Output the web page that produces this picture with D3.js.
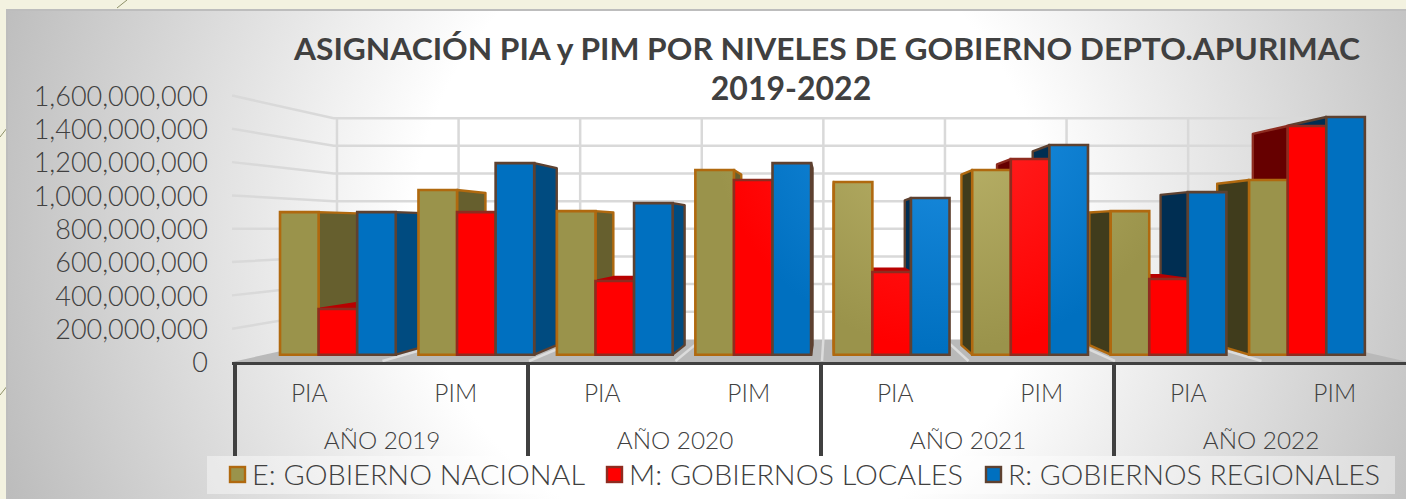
<!DOCTYPE html>
<html><head><meta charset="utf-8">
<script src="https://cdn.jsdelivr.net/npm/d3@7/dist/d3.min.js"></script>
<style>html,body{margin:0;padding:0;background:#f3f2e0;overflow:hidden}svg{display:block}text{font-family:Lato,sans-serif;fill:#404040}</style>
</head><body><svg id="c" width="1406" height="499"></svg>
<script>
const years = ["AÑO 2019","AÑO 2020","AÑO 2021","AÑO 2022"];
const kinds = ["PIA","PIM"];
const seriesNames = ["E: GOBIERNO NACIONAL","M: GOBIERNOS LOCALES","R: GOBIERNOS REGIONALES"];
const nacional = [906e6,1046e6,912e6,1173e6,1097e6,1173e6,912e6,1110e6];
const locales  = [290e6,906e6,468e6,1110e6,525e6,1243e6,481e6,1453e6];
const regional = [906e6,1217e6,963e6,1217e6,995e6,1332e6,1033e6,1510e6];
const yTicks = d3.range(0,1600000001,200000000);

const palette = [
 {lo:"#9a934b",hi:"#bdb56c",stroke:"#b0690f",sideL:"#665f2e",sideR:"#403c1c",top:"#7d7638"},
 {lo:"#ff0000",hi:"#ff2626",stroke:"#8e2c20",sideL:"#8a0000",sideR:"#660000",top:"#b80000"},
 {lo:"#0070c0",hi:"#1f90e4",stroke:"#5e4130",sideL:"#004b80",sideR:"#002e52",top:"#003a66"}
];
const svg = d3.select("#c");
const defs = svg.append("defs");
const bg = defs.append("radialGradient").attr("id","bg").attr("gradientUnits","userSpaceOnUse")
  .attr("cx",730).attr("cy",230).attr("r",790);
bg.append("stop").attr("offset",0.4).attr("stop-color","#ffffff");
bg.append("stop").attr("offset",1).attr("stop-color","#b9b9b9");
palette.forEach((p,i)=>{
  const g=defs.append("radialGradient").attr("id","f"+i).attr("gradientUnits","userSpaceOnUse")
    .attr("cx",950).attr("cy",110).attr("r",240);
  g.append("stop").attr("offset",0).attr("stop-color",p.hi);
  g.append("stop").attr("offset",1).attr("stop-color",p.lo);
});

// page decoration & panel
const deco=[[127,0,117,8],[7,128,0,137],[8,385,0,395]];
svg.selectAll("line.deco").data(deco).join("line").attr("class","deco")
  .attr("x1",d=>d[0]).attr("y1",d=>d[1]).attr("x2",d=>d[2]).attr("y2",d=>d[3])
  .attr("stroke","#8d9068").attr("stroke-width",1);
svg.append("rect").attr("x",7).attr("y",9).attr("width",1399).attr("height",490).attr("fill","url(#bg)");
svg.append("path").attr("d","M7,499V10H1406").attr("fill","none").attr("stroke","#bdbdbd").attr("stroke-width",2);

// scales
const cats = d3.range(8);
const x0 = d3.scaleBand().domain(cats).range([236,1408]);
const x1 = d3.scaleBand().domain([0,1,2]).range([x0.bandwidth()*0.082,x0.bandwidth()*0.918]);
const y = d3.scaleLinear().domain([0,1.6e9]).range([362,95.5]);
const VP = {x:830,y:229}, T0=.055, T1=.127, TW=.17;
const P=(x,v,t)=>{const Y=y(v);return [x+t*(VP.x-x),Y+t*(VP.y-Y)];};
const poly=a=>"M"+a.map(p=>p.join(",")).join("L")+"Z";

// floor
const [xa,xb]=x0.range();
svg.append("path").attr("d",poly([P(xa-4,0,0),P(xa-4,0,TW),P(xb,0,TW),P(xb,0,0)])).attr("fill","#b9b9b9");
const edges=cats.map(c=>x0(c));
svg.selectAll("line.fl").data(edges.slice(1)).join("line").attr("class","fl")
  .attr("x1",d=>P(d,0,TW)[0]).attr("y1",d=>P(d,0,TW)[1]).attr("x2",d=>P(d,0,0)[0]).attr("y2",d=>P(d,0,0)[1]-1)
  .attr("stroke","#dcdcdc").attr("stroke-width",2.5);
// walls
const grid=svg.append("g").attr("fill","none").attr("stroke","#d9d9d9").attr("stroke-width",2.5);
grid.selectAll("path.h").data(yTicks.slice(1)).join("path").attr("class","h")
  .attr("d",v=>"M"+[P(xa-4,v,0),P(xa-4,v,TW),P(xb,v,TW)].map(p=>p.join(",")).join("L"));
grid.selectAll("line.v").data(edges).join("line").attr("class","v")
  .attr("x1",d=>P(d,0,TW)[0]).attr("x2",d=>P(d,0,TW)[0])
  .attr("y1",P(0,0,TW)[1]).attr("y2",P(0,1.6e9,TW)[1]);

// bars
const seriesVals=[nacional,locales,regional];
const bars=[];
cats.forEach(c=>seriesVals.forEach((s,i)=>{
  const l=x0(c)+x1(i), r=l+x1.bandwidth();
  bars.push({c,i,v:s[c],l,r});
}));
const backs=[],fronts=bars;
bars.forEach(b=>{
  const p=palette[b.i];
  const fl=P(b.l,0,T0)[0], fr=P(b.r,0,T0)[0];
  const e=fr<VP.x?b.r:(fl>VP.x?b.l:null);
  if(e!==null){
    backs.push({k:Math.abs(e-VP.x),ord:0,b,d:poly([P(e,0,T0),P(e,0,T1),P(e,b.v,T1),P(e,b.v,T0)]),
      fill:e<VP.x?p.sideL:p.sideR,stroke:p.stroke});
  }
  if(y(b.v)>VP.y){
    backs.push({k:Math.abs(e===null?0:e-VP.x)-.1,ord:1,b,d:poly([P(b.l,b.v,T0),P(b.l,b.v,T1),P(b.r,b.v,T1),P(b.r,b.v,T0)]),
      fill:p.top,stroke:p.top});
  }
});
backs.sort((a,b)=>b.k-a.k);
svg.append("g").selectAll("path").data(backs).join("path")
  .attr("d",d=>d.d).attr("fill",d=>d.fill).attr("stroke",d=>d.stroke).attr("stroke-width",2.4).attr("stroke-linejoin","round");
svg.append("g").selectAll("path").data(fronts).join("path")
  .attr("d",b=>poly([P(b.l,0,T0),P(b.l,b.v,T0),P(b.r,b.v,T0),P(b.r,0,T0)]))
  .attr("fill",b=>`url(#f${b.i})`).attr("stroke",b=>palette[b.i].stroke).attr("stroke-width",2.6);

// y axis
const ya=svg.append("g").attr("transform","translate(208,1)")
  .call(d3.axisLeft(y).tickValues(yTicks).tickFormat(d3.format(",")).tickSize(0).tickPadding(0));
ya.select(".domain").remove();
ya.selectAll("text").attr("font-size",27).style("font-family","Lato,sans-serif").attr("fill","#404040").attr("font-weight",300);

// category axis
svg.append("line").attr("x1",232).attr("x2",1406).attr("y1",363.5).attr("y2",363.5).attr("stroke","#404040").attr("stroke-width",3);
const yearEdges=[0,2,4,6].map(c=>x0(c));
svg.selectAll("line.yr").data(yearEdges).join("line").attr("class","yr")
  .attr("x1",d=>d-1).attr("x2",d=>d-1).attr("y1",363).attr("y2",456).attr("stroke","#404040").attr("stroke-width",4);
svg.selectAll("text.k").data(cats).join("text").attr("class","k")
  .attr("x",c=>x0(c)+x0.bandwidth()/2).attr("y",402).attr("text-anchor","middle").attr("font-size",24.5).attr("font-weight",300)
  .text(c=>kinds[c%2]);
svg.selectAll("text.y").data(years).join("text").attr("class","y")
  .attr("x",(d,i)=>x0(i*2)+x0.bandwidth()-.5).attr("y",449).attr("text-anchor","middle").attr("font-size",24.3).attr("font-weight",300)
  .text(d=>d);

// title
svg.append("text").attr("x",827).attr("y",60).attr("text-anchor","middle").attr("font-size",31).attr("font-weight",700)
  .attr("textLength",1066).attr("lengthAdjust","spacingAndGlyphs").text("ASIGNACIÓN PIA y PIM POR NIVELES DE GOBIERNO DEPTO.APURIMAC");
svg.append("text").attr("x",791).attr("y",100).attr("text-anchor","middle").attr("font-size",32).attr("font-weight",700).text("2019-2022");

// legend
svg.append("rect").attr("x",207).attr("y",456).attr("width",1188).attr("height",38).attr("fill","#fff").attr("opacity",.42);
const lg=[{sx:230,tx:252,w:333},{sx:607,tx:629,w:334},{sx:986,tx:1008,w:372}];
const items=svg.selectAll("g.lg").data(seriesNames).join("g").attr("class","lg");
items.append("rect").attr("x",(d,i)=>lg[i].sx).attr("y",467).attr("width",15).attr("height",15)
  .attr("fill",(d,i)=>palette[i].lo).attr("stroke",(d,i)=>palette[i].stroke).attr("stroke-width",2.4);
items.append("text").attr("x",(d,i)=>lg[i].tx).attr("y",485).attr("font-size",28).attr("font-weight",300)
  .attr("textLength",(d,i)=>lg[i].w).attr("lengthAdjust","spacingAndGlyphs").text(d=>d);
</script></body></html>
